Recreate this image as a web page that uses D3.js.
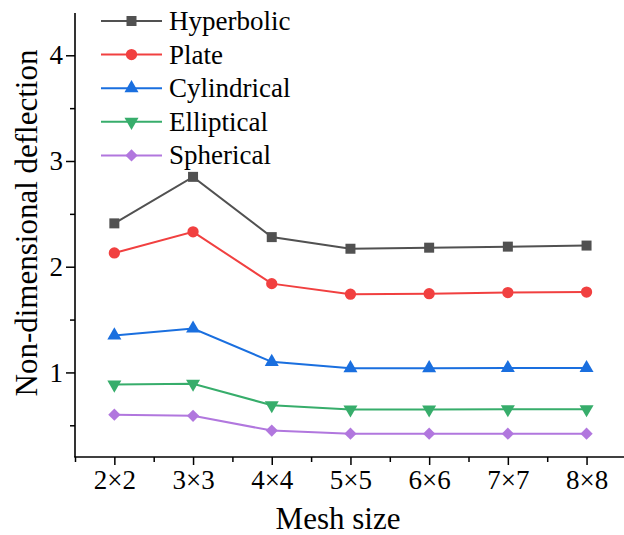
<!DOCTYPE html>
<html>
<head>
<meta charset="utf-8">
<script src="https://cdn.jsdelivr.net/npm/d3@7"></script>
<style>
  body { margin: 0; background: #fff; }
  svg text { font-family: "Liberation Serif", "Times New Roman", serif; fill: #000; }
</style>
</head>
<body>
<svg id="chart" width="624" height="535"></svg>
<script>
// mesh sizes along the x axis
var meshSizes = ["2×2", "3×3", "4×4", "5×5", "6×6", "7×7", "8×8"];

// deflection per shell type
var hyperbolic  = [2.41, 2.85, 2.28, 2.17, 2.18, 2.19, 2.20];
var plate       = [2.13, 2.33, 1.84, 1.74, 1.745, 1.755, 1.76];
var cylindrical = [1.35, 1.415, 1.10, 1.04, 1.04, 1.042, 1.042];
var elliptical  = [0.885, 0.893, 0.69, 0.65, 0.65, 0.652, 0.652];
var spherical   = [0.60, 0.59, 0.45, 0.42, 0.42, 0.42, 0.42];

var yTicks = [1, 2, 3, 4];

var serif = "'Liberation Serif', 'Times New Roman', serif";

var series = [
  { name: "Hyperbolic",  values: hyperbolic,  color: "#515151", symbol: d3.symbolSquare,   size: 100, rot: 0 },
  { name: "Plate",       values: plate,       color: "#F14040", symbol: d3.symbolCircle,   size: 100, rot: 0 },
  { name: "Cylindrical", values: cylindrical, color: "#1A6FDF", symbol: d3.symbolTriangle, size: 85,  rot: 0 },
  { name: "Elliptical",  values: elliptical,  color: "#37AD6B", symbol: d3.symbolTriangle, size: 85,  rot: 180 },
  { name: "Spherical",   values: spherical,   color: "#B177DE", symbol: d3.symbolSquare,   size: 75,  rot: 45 }
];

var svg = d3.select("#chart");

var plotLeft = 75, plotBottom = 457, plotTop = 13;

var x = d3.scaleLinear().domain([-0.5, 6.5]).range([plotLeft, plotLeft + 7 * 78.7]);
var y = d3.scaleLinear().domain([0.2, 4.4]).range([plotBottom, plotTop]);

// y axis
var yAxis = d3.axisLeft(y).tickValues(yTicks).tickFormat(d3.format("d")).tickSize(9).tickPadding(3);
var gy = svg.append("g").attr("transform", "translate(" + plotLeft + ",0)").call(yAxis);
gy.attr("font-family", serif);
gy.select(".domain").attr("stroke-width", 1.6).attr("d", "M0," + plotTop + "V" + plotBottom);
gy.selectAll(".tick line").attr("stroke-width", 1.5);
gy.selectAll(".tick text").attr("font-size", 27);

var gyMinor = svg.append("g").attr("transform", "translate(" + plotLeft + ",0)")
  .call(d3.axisLeft(y).tickValues([0.5, 1.5, 2.5, 3.5]).tickSize(5).tickFormat(""));
gyMinor.select(".domain").remove();
gyMinor.selectAll(".tick line").attr("stroke-width", 1.5);

// x axis
var xAxis = d3.axisBottom(x).tickValues(d3.range(meshSizes.length))
  .tickFormat(function(i) { return meshSizes[i]; }).tickSize(8).tickPadding(5);
var gx = svg.append("g").attr("transform", "translate(0," + plotBottom + ")").call(xAxis);
gx.attr("font-family", serif);
gx.select(".domain").attr("stroke-width", 1.6).attr("d", "M" + (plotLeft - 0.8) + ",0H624");
gx.selectAll(".tick line").attr("stroke-width", 1.5);
gx.selectAll(".tick text").attr("font-size", 27).attr("dy", "0.72em");

var gxMinor = svg.append("g").attr("transform", "translate(0," + plotBottom + ")")
  .call(d3.axisBottom(x).tickValues([-0.5, 0.5, 1.5, 2.5, 3.5, 4.5, 5.5]).tickSize(5).tickFormat(""));
gxMinor.select(".domain").remove();
gxMinor.selectAll(".tick line").attr("stroke-width", 1.5);

// axis titles
svg.append("text")
  .attr("transform", "translate(37," + 223 + ") rotate(-90)")
  .attr("text-anchor", "middle")
  .attr("font-family", serif)
  .attr("font-size", 31)
  .text("Non-dimensional deflection");

svg.append("text")
  .attr("x", 338).attr("y", 529)
  .attr("text-anchor", "middle")
  .attr("font-family", serif)
  .attr("font-size", 31)
  .text("Mesh size");

// lines + markers
var line = d3.line().x(function(d, i) { return x(i); }).y(function(d) { return y(d); });

series.forEach(function(s) {
  svg.append("path")
    .datum(s.values)
    .attr("fill", "none")
    .attr("stroke", s.color)
    .attr("stroke-width", 2)
    .attr("d", line);

  svg.selectAll(null)
    .data(s.values)
    .enter()
    .append("path")
    .attr("transform", function(d, i) {
      return "translate(" + x(i) + "," + y(d) + ") rotate(" + s.rot + ")";
    })
    .attr("d", d3.symbol().type(s.symbol).size(s.size))
    .attr("fill", s.color);
});

// legend
var legend = svg.append("g");
series.forEach(function(s, k) {
  var ly = 21 + k * 33.6;
  legend.append("line")
    .attr("x1", 101).attr("x2", 162)
    .attr("y1", ly).attr("y2", ly)
    .attr("stroke", s.color).attr("stroke-width", 2);
  legend.append("path")
    .attr("transform", "translate(131.5," + ly + ") rotate(" + s.rot + ")")
    .attr("d", d3.symbol().type(s.symbol).size(s.size))
    .attr("fill", s.color);
  legend.append("text")
    .attr("x", 169).attr("y", ly + 9)
    .attr("font-family", serif)
    .attr("font-size", 27)
    .text(s.name);
});
</script>
</body>
</html>
